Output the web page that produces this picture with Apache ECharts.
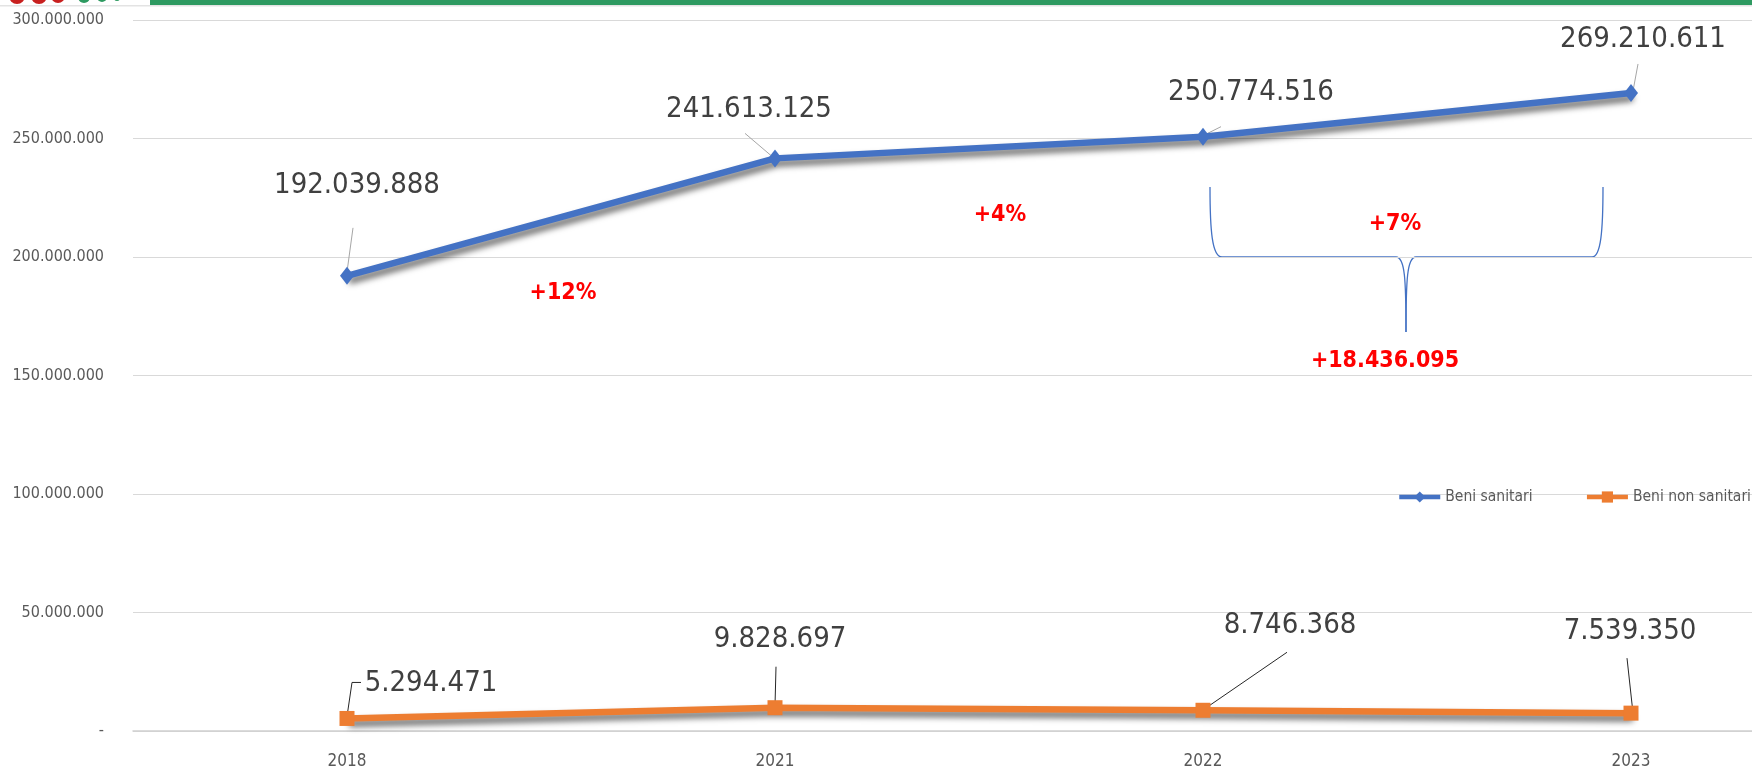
<!DOCTYPE html>
<html>
<head>
<meta charset="utf-8">
<script src="https://cdn.jsdelivr.net/npm/echarts@6/dist/echarts.min.js"></script>
<style>
  html, body { margin: 0; padding: 0; background: #fff; }
  #chart { width: 1752px; height: 771px; }
</style>
</head>
<body>
<div id="chart"></div>
<script>
// dati
const years = ['2018', '2021', '2022', '2023']
const beniSanitari = [192039888, 241613125, 250774516, 269210611]
const beniNonSanitari = [5294471, 9828697, 8746368, 7539350]
const yMin = 0
const yMax = 300000000
const yStep = 50000000

// spostamento delle etichette rispetto al punto (px) e linee guida
const blueLabelOffset = [[10, -90], [-26, -49], [48, -44], [12, -54]]
const blueGuide = [
  [[0, -4], [6, -48]],
  [[-3, -2], [-30, -25]],
  [[2, -2], [18, -10]],
  [[2, -2], [7, -29]]
]
const orangeLabelOffset = [[84, -35], [5, -68], [87, -85], [-1, -82]]
const orangeGuide = [
  [[0, -2], [5, -36], [14, -36]],
  [[0, -2], [1, -41]],
  [[1, -1], [84, -58]],
  [[2, 0], [-4, -55]]
]

const FONT = "'DejaVu Sans Condensed', 'DejaVu Sans', sans-serif"

const fmt = v => String(v).replace(/\B(?=(\d{3})+(?!\d))/g, '.')

const makeLayout = offsets => params => {
  const cx = params.rect.x + params.rect.width / 2
  const cy = params.rect.y + params.rect.height / 2
  const i = params.dataIndex
  return {
    x: cx + offsets[i][0],
    y: cy + offsets[i][1],
    align: 'center',
    verticalAlign: 'middle',
    hideOverlap: false
  }
}

const braceStyle = { stroke: '#4472C4', lineWidth: 1.3, fill: null }
const redText = (text, x, y) => ({
  type: 'text',
  style: { text, x, y, fill: '#ff0000', font: 'bold 23px ' + FONT, align: 'center', verticalAlign: 'middle' }
})

const lineShadow = {
  shadowColor: 'rgba(0,0,0,0.6)',
  shadowBlur: 6,
  shadowOffsetX: 2,
  shadowOffsetY: 5
}

const baseGraphic = [
  // striscia decorativa in alto
  { type: 'rect', shape: { x: 150, y: 0, width: 1602, height: 5 }, style: { fill: '#2e9a61' } },
  { type: 'rect', shape: { x: 0, y: 5, width: 1752, height: 1.5 }, style: { fill: '#e3e3e3' } },
  { type: 'circle', shape: { cx: 17, cy: -4, r: 8 }, style: { fill: '#c8201f' } },
  { type: 'circle', shape: { cx: 39, cy: -4, r: 8 }, style: { fill: '#c8201f' } },
  { type: 'circle', shape: { cx: 58, cy: -4, r: 7 }, style: { fill: '#c8201f' } },
  { type: 'circle', shape: { cx: 84, cy: -3, r: 6 }, style: { fill: '#2e9a61' } },
  { type: 'circle', shape: { cx: 102, cy: -3, r: 5 }, style: { fill: '#2e9a61' } },
  { type: 'circle', shape: { cx: 117, cy: -2, r: 3 }, style: { fill: '#2e9a61' } },
  // parentesi graffa
  { type: 'bezierCurve', shape: { x1: 1210, y1: 187, cpx1: 1210, cpy1: 230, cpx2: 1212, cpy2: 257, x2: 1222, y2: 257 }, style: braceStyle },
  { type: 'line', shape: { x1: 1222, y1: 257, x2: 1396, y2: 257 }, style: braceStyle },
  { type: 'bezierCurve', shape: { x1: 1396, y1: 257, cpx1: 1405, cpy1: 257, cpx2: 1406, cpy2: 280, x2: 1406, y2: 332 }, style: braceStyle },
  { type: 'bezierCurve', shape: { x1: 1406, y1: 332, cpx1: 1406, cpy1: 280, cpx2: 1407, cpy2: 257, x2: 1416, y2: 257 }, style: braceStyle },
  { type: 'line', shape: { x1: 1416, y1: 257, x2: 1592, y2: 257 }, style: braceStyle },
  { type: 'bezierCurve', shape: { x1: 1592, y1: 257, cpx1: 1601, cpy1: 257, cpx2: 1603, cpy2: 230, x2: 1603, y2: 187 }, style: braceStyle },
  // annotazioni in rosso
  redText('+12%', 563, 293),
  redText('+4%', 1000, 215),
  redText('+7%', 1395, 224),
  redText('+18.436.095', 1385, 361)
]

const chart = echarts.init(document.getElementById('chart'))

const option = {
  animation: false,
  backgroundColor: '#fff',
  grid: { left: 133, top: 20, width: 1712, height: 711, containLabel: false, outerBoundsMode: 'none' },
  legend: {
    data: ['Beni sanitari', 'Beni non sanitari'],
    orient: 'horizontal',
    left: 1392,
    top: 484,
    width: 420,
    itemWidth: 41,
    itemHeight: 14,
    itemGap: 52,
    lineStyle: { width: 4.5 },
    textStyle: { fontSize: 15.5, color: '#595959', fontFamily: FONT }
  },
  xAxis: {
    type: 'category',
    data: years,
    axisTick: { show: false },
    axisLine: { lineStyle: { color: '#d0d0d0', width: 1.5 } },
    axisLabel: { fontSize: 17, color: '#595959', margin: 22, fontFamily: FONT }
  },
  yAxis: {
    type: 'value',
    min: yMin,
    max: yMax,
    interval: yStep,
    axisLine: { show: false },
    axisTick: { show: false },
    splitLine: { lineStyle: { color: '#d9d9d9', width: 1 } },
    axisLabel: {
      fontSize: 16,
      color: '#595959',
      margin: 29,
      fontFamily: FONT,
      formatter: v => (v === 0 ? '-' : fmt(v))
    }
  },
  series: [
    {
      name: 'Beni sanitari',
      type: 'line',
      data: beniSanitari,
      symbol: 'diamond',
      symbolSize: [14, 18],
      color: '#4472C4',
      lineStyle: Object.assign({ width: 6.5, color: '#4472C4' }, lineShadow),
      itemStyle: { color: '#4472C4' },
      label: {
        show: true,
        fontSize: 29,
        color: '#404040',
        fontFamily: FONT,
        formatter: p => fmt(p.value)
      },
      labelLayout: makeLayout(blueLabelOffset)
    },
    {
      name: 'Beni non sanitari',
      type: 'line',
      data: beniNonSanitari,
      symbol: 'rect',
      symbolSize: 15,
      color: '#ED7D31',
      lineStyle: Object.assign({ width: 6.5, color: '#ED7D31' }, lineShadow),
      itemStyle: { color: '#ED7D31' },
      label: {
        show: true,
        fontSize: 29,
        color: '#404040',
        fontFamily: FONT,
        formatter: p => fmt(p.value)
      },
      labelLayout: makeLayout(orangeLabelOffset)
    }
  ],
  graphic: baseGraphic
}

chart.setOption(option)

// linee guida delle etichette, ancorate ai punti calcolati dalla libreria
const guideLines = []
const guideSets = [
  [beniSanitari, blueGuide, '#a6a6a6'],
  [beniNonSanitari, orangeGuide, '#262626']
]
guideSets.forEach(([vals, guides, color], s) => {
  vals.forEach((v, i) => {
    const [cx, cy] = chart.convertToPixel({ seriesIndex: s }, [i, v])
    guideLines.push({
      type: 'polyline',
      z: 3,
      shape: { points: guides[i].map(p => [cx + p[0], cy + p[1]]) },
      style: { stroke: color, lineWidth: 1, fill: null }
    })
  })
})
chart.setOption({ graphic: baseGraphic.concat(guideLines) })
</script>
</body>
</html>
